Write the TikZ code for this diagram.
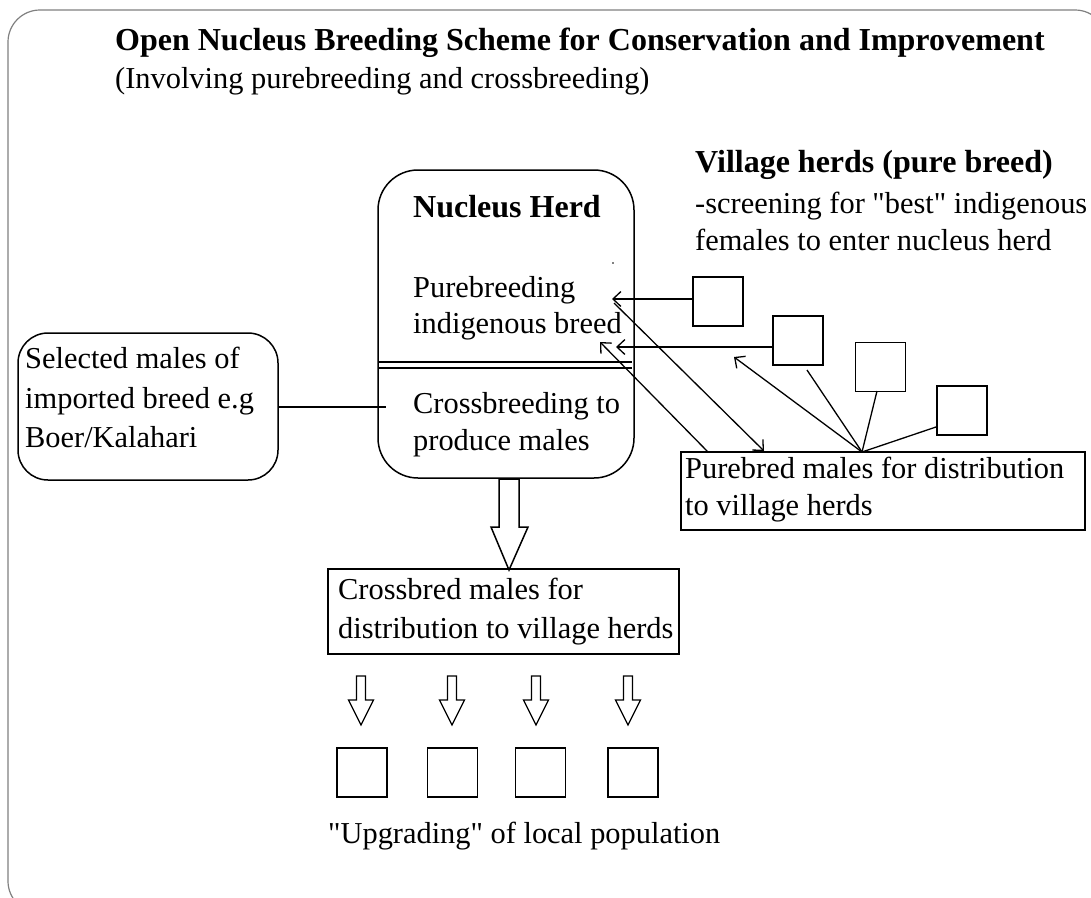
\documentclass[tikz,border=0pt]{standalone}
\usepackage{fontspec}
\setmainfont{Liberation Serif}[Ligatures=TeXOff]
\usetikzlibrary{arrows.meta}
\newcommand{\qq}{\symbol{34}}
\begin{document}
\begin{tikzpicture}[x=1pt,y=-1pt,
  txt/.style={inner sep=0pt, anchor=base west, align=left, font=\fontsize{30.4}{37}\selectfont},
  boldtxt/.style={txt, font=\fontsize{32}{38}\selectfont\bfseries},
  rbox/.style={draw, line width=1.5pt, rounded corners=#1, inner sep=0pt},
  sqbox/.style={draw, line width=1.5pt, inner sep=0pt, minimum width=50pt, minimum height=49pt},
  plainbox/.style={draw, line width=1.5pt, inner sep=0pt},
  conn/.style={line width=1.3pt},
  arr/.style={conn, -{Straight Barb[length=8pt,width=15pt,line width=1.3pt]}},
  hollow/.style={draw, line width=1.5pt, fill=white, line join=miter}
]
\useasboundingbox (0,0) rectangle (1091,897);
\begin{scope}
\clip (0,0) rectangle (1091,897);
\draw[gray, line width=1.2pt, rounded corners=32pt] (8,10) rectangle (1107,913);
\end{scope}

% title
\node[boldtxt] (title) at (115,50) {Open Nucleus Breeding Scheme for Conservation and Improvement};
\node[txt] (subtitle) at (115,88) {(Involving purebreeding and crossbreeding)};

% nucleus herd
\node[rbox=40pt, minimum width=256pt, minimum height=308pt] (nuc) at (506,324) {};
\coordinate (dl1) at (378,362);
\coordinate (dr1) at (632,362);
\coordinate (dl2) at (378,368);
\coordinate (dr2) at (632,368);
\draw[conn] (dl1) -- (dr1);
\draw[conn] (dl2) -- (dr2);
\node[boldtxt] (nuctitle) at (413,217) {Nucleus Herd};
\node[txt] (pure) at (413,297) {Purebreeding};
\node[txt] (pure2) at (413,333) {indigenous breed};
\node[txt] (cross) at (413,413) {Crossbreeding to};
\node[txt] (cross2) at (413,450) {produce males};
\fill (613,263) circle (0.9pt);

% selected males
\node[rbox=30pt, minimum width=260pt, minimum height=147pt] (sel) at (148,406.5) {};
\node[txt] (sel1) at (25,368) {Selected males of};
\node[txt] (sel2) at (25,408) {imported breed e.g};
\node[txt] (sel3) at (25,447) {Boer/Kalahari};
\coordinate (selend) at (386,407);
\draw[conn] (sel.east |- selend) -- (selend);

% big hollow arrow
\draw[hollow] (499,479) -- (519,479) -- (519,527) -- (528,527) -- (509,570) -- (491,527) -- (499,527) -- cycle;

% crossbred box
\node[plainbox, minimum width=351pt, minimum height=85pt] (cb) at (503.5,611.5) {};
\node[txt] (cb1) at (338,599) {Crossbred males for};
\node[txt] (cb2) at (338,638) {distribution to village herds};

% small arrows
\foreach \cx in {361,452,536,628}{
  \draw[hollow, line width=1.3pt] (\cx-4.5,676) -- (\cx+4.5,676) -- (\cx+4.5,700) -- (\cx+12.5,700) -- (\cx,725) -- (\cx-12.5,700) -- (\cx-4.5,700) -- cycle;
}
\node[sqbox] (u1) at (362,772.5) {};
\node[sqbox] (u2) at (452.5,772.5) {};
\node[sqbox] (u3) at (540.5,772.5) {};
\node[sqbox] (u4) at (633,772.5) {};
\node[txt] (upg) at (328,843) {\qq Upgrading\qq{} of local population};

% village herds
\node[boldtxt] (vh) at (695,172) {Village herds (pure breed)};
\node[txt] (vh2) at (695,213) {-screening for \qq best\qq{} indigenous};
\node[txt] (vh3) at (695,250) {females to enter nucleus herd};
\node[sqbox] (v1) at (718,301.5) {};
\node[sqbox] (v2) at (798,340.5) {};
\node[sqbox] (v3) at (880.5,367) {};
\node[sqbox] (v4) at (962,410.5) {};

% purebred box
\node[plainbox, minimum width=404pt, minimum height=78pt] (pb) at (883,491) {};
\node[txt] (pb1) at (685,478) {Purebred males for distribution};
\node[txt] (pb2) at (685,515) {to village herds};

% arrows into nucleus
\coordinate (t1) at (612,299);
\coordinate (t2) at (616,347);
\draw[arr] (v1.west |- t1) -- (t1);
\draw[arr] (v2.west |- t2) -- (t2);
\coordinate (s3) at (708,452);
\coordinate (t3) at (600,342);
\draw[arr] (s3) -- (t3);
\coordinate (s4) at (614,303);
\coordinate (t4) at (764,451);
\draw[arr] (s4) -- (t4);

% fan from purebred box
\coordinate (hub) at (862,452);
\coordinate (e2) at (807,370);
\coordinate (e3) at (877,391);
\coordinate (e4) at (936,427);
\coordinate (e5) at (734,357);
\draw[conn] (hub) -- (e2);
\draw[conn] (hub) -- (e3);
\draw[conn] (hub) -- (e4);
\draw[arr] (hub) -- (e5);
\end{tikzpicture}
\end{document}
